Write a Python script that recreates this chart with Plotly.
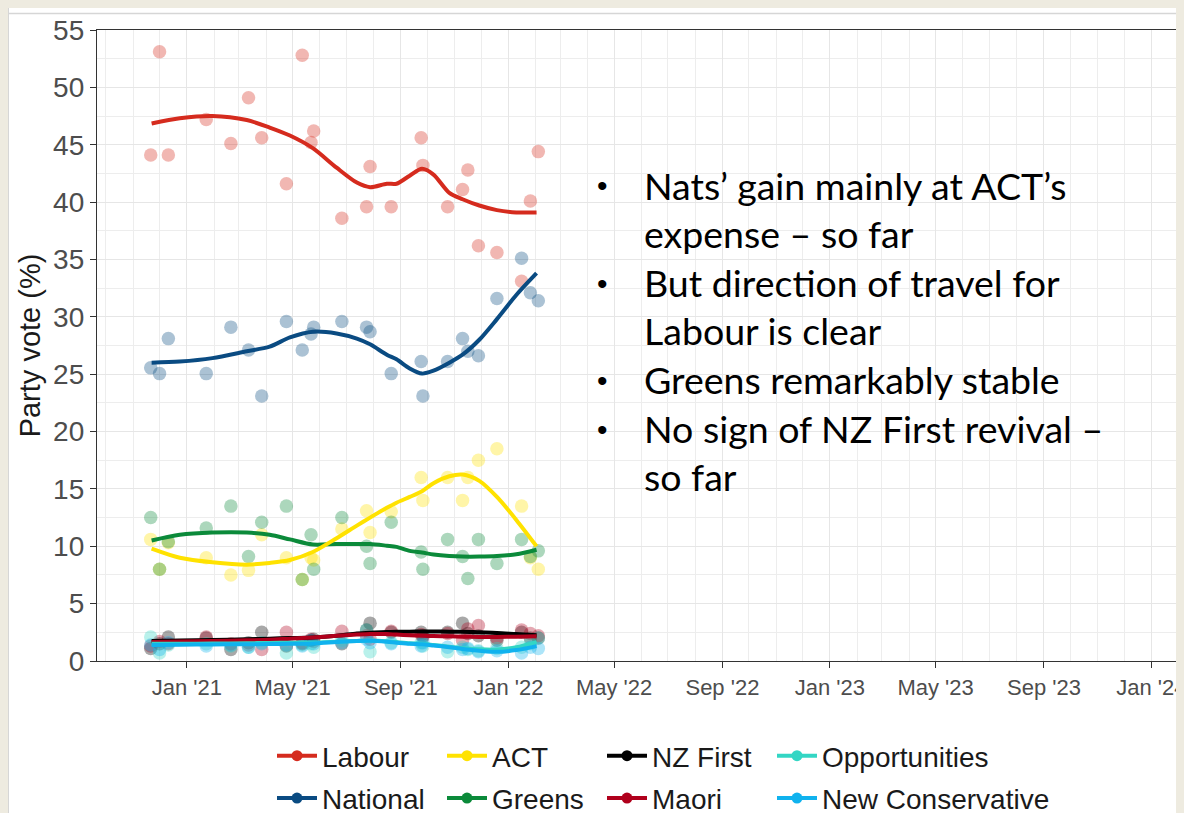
import plotly.graph_objects as go

# ---------------- data ----------------
poll_dates = ["2020-11-21", "2020-12-01", "2020-12-11", "2021-01-23", "2021-02-20",
              "2021-03-12", "2021-03-27", "2021-04-24", "2021-05-12", "2021-05-22",
              "2021-05-25", "2021-06-26", "2021-07-24", "2021-07-28", "2021-08-21",
              "2021-09-24", "2021-09-26", "2021-10-24", "2021-11-10", "2021-11-16",
              "2021-11-28", "2021-12-19", "2022-01-16", "2022-01-26", "2022-02-04"]

labour = [44.1, 53.1, 44.1, 47.2, 45.1, 49.1, 45.6, 41.6, 52.8, 45.2, 46.2, 38.6, 39.6,
          43.1, 39.6, 45.6, 43.2, 39.6, 41.1, 42.8, 36.2, 35.6, 33.1, 40.1, 44.4]
national = [25.55, 25.05, 28.1, 25.05, 29.1, 27.1, 23.1, 29.6, 27.1, 28.5, 29.1, 29.6, 29.1,
            28.7, 25.05, 26.1, 23.1, 26.1, 28.1, 27.0, 26.6, 31.6, 35.1, 32.1, 31.4]
act = [10.6, 8.0, 10.3, 9.0, 7.5, 7.9, 11.0, 9.0, 7.1, 9.0, 8.8, 11.5, 13.1, 11.2, 13.0,
       16.0, 14.0, 16.0, 14.0, 16.0, 17.5, 18.5, 13.5, 9.0, 8.0]
greens = [12.5, 8.0, 10.4, 11.6, 13.5, 9.1, 12.1, 13.5, 7.1, 11.0, 8.0, 12.5, 10.0, 8.5,
          12.1, 9.5, 8.0, 10.6, 9.1, 7.2, 10.6, 8.5, 10.6, 9.1, 9.6]
nz_first = [1.1, 1.5, 2.1, 2.0, 1.0, 1.6, 2.5, 1.3, 1.5, 1.8, 1.9, 1.5, 2.7, 3.3, 2.5,
            2.5, 2.2, 2.5, 3.3, 2.4, 2.2, 1.8, 2.5, 2.0, 2.0]
maori = [1.3, 1.7, 1.5, 2.1, 1.5, 1.4, 1.0, 2.5, 1.6, 1.9, 1.7, 2.6, 2.2, 1.9, 2.6,
         2.3, 2.1, 2.4, 1.8, 2.8, 3.1, 2.0, 2.7, 2.4, 2.2]
opportunities = [2.1, 0.7, 1.4, 1.5, 1.3, 1.2, 1.6, 0.7, 1.4, 1.5, 1.2, 1.8, 2.7, 0.8, 1.6,
                 1.6, 1.3, 0.8, 1.2, 1.0, 0.9, 1.1, 1.2, 1.5, 2.0]
new_conservative = [1.4, 1.0, 1.6, 1.3, 1.4, 1.2, 1.5, 1.4, 1.3, 1.8, 1.5, 1.6, 1.9, 1.6, 1.5,
                    1.3, 1.6, 1.2, 1.0, 1.1, 0.8, 0.9, 0.7, 1.2, 1.1]

smooth_dates = ["2020-11-22", "2020-12-24", "2021-01-30", "2021-03-10", "2021-04-05",
                "2021-04-28", "2021-05-24", "2021-06-20", "2021-07-13", "2021-07-28",
                "2021-08-16", "2021-08-27", "2021-09-11", "2021-09-25", "2021-10-08",
                "2021-10-26", "2021-11-10", "2021-11-29", "2021-12-19", "2022-01-10",
                "2022-02-02"]

labour_trend = [46.85, 47.3, 47.5, 47.15, 46.5, 45.8, 44.7, 43.0, 41.7, 41.3, 41.6, 41.6,
                42.3, 42.9, 42.4, 40.8, 40.25, 39.7, 39.3, 39.1, 39.1]
national_trend = [26.0, 26.1, 26.4, 27.0, 27.4, 28.2, 28.7, 28.55, 28.1, 27.6, 26.7, 26.3,
                  25.5, 25.05, 25.3, 26.0, 26.7, 28.0, 29.8, 31.9, 33.8]
greens_trend = [10.5, 11.0, 11.2, 11.2, 11.0, 10.6, 10.15, 10.2, 10.2, 10.2, 10.05, 9.95,
                9.6, 9.45, 9.28, 9.15, 9.1, 9.1, 9.15, 9.3, 9.7]
act_trend = [9.8, 9.0, 8.6, 8.4, 8.55, 8.8, 9.5, 10.7, 11.8, 12.5, 13.35, 13.8, 14.3, 14.8,
             15.5, 16.1, 16.25, 15.7, 14.3, 12.3, 10.0]
nz_first_trend = [1.75, 1.78, 1.82, 1.9, 1.95, 2.0, 2.05, 2.2, 2.4, 2.47, 2.52, 2.55, 2.56,
                  2.57, 2.57, 2.56, 2.55, 2.5, 2.45, 2.35, 2.25]
maori_trend = [1.65, 1.7, 1.75, 1.8, 1.85, 1.95, 2.05, 2.2, 2.3, 2.35, 2.35, 2.3, 2.25, 2.2,
               2.17, 2.15, 2.12, 2.1, 2.1, 2.12, 2.15]
opportunities_trend = [1.5, 1.5, 1.52, 1.55, 1.57, 1.6, 1.6, 1.68, 1.75, 1.78, 1.72, 1.65,
                       1.55, 1.5, 1.4, 1.25, 1.12, 1.02, 1.0, 1.2, 1.65]
new_conservative_trend = [1.4, 1.42, 1.44, 1.46, 1.48, 1.5, 1.52, 1.65, 1.75, 1.77, 1.68,
                          1.6, 1.5, 1.45, 1.35, 1.2, 1.05, 0.9, 0.8, 0.95, 1.3]

party_names = ["Labour", "National", "ACT", "Greens", "NZ First", "Maori",
               "Opportunities", "New Conservative"]
party_colors = ["#D52B1E", "#0A4B82", "#FFE200", "#0B8A3A", "#000000", "#B0001C",
                "#33D6C4", "#10B2EE"]
poll_values = [labour, national, act, greens, nz_first, maori, opportunities, new_conservative]
trend_values = [labour_trend, national_trend, act_trend, greens_trend, nz_first_trend,
                maori_trend, opportunities_trend, new_conservative_trend]

bullet_lines = ["Nats’ gain mainly at ACT’s", "expense – so far", "But direction of travel for",
                "Labour is clear", "Greens remarkably stable", "No sign of NZ First revival –",
                "so far"]
bullet_flags = [True, False, True, False, True, True, False]

# ---------------- layout geometry (screen pixels; page body has an 8px margin) ----------
OFF = 8
W, H = 1184 - OFF, 813 - OFF
PLOT_L, PLOT_R, PLOT_T, PLOT_B = 97, 1184, 30, 661      # screen coordinates of plot area
ML, MR, MT, MB = PLOT_L - OFF, 1184 - PLOT_R, PLOT_T - OFF, 813 - PLOT_B
PW, PH = W - ML - MR, H - MT - MB


def px(x):
    return (x - PLOT_L) / PW


def py(y):
    return (PLOT_B - y) / PH


fig = go.Figure()

# points
for name, col, vals in zip(party_names, party_colors, poll_values):
    fig.add_trace(go.Scatter(
        x=poll_dates, y=vals, mode="markers", showlegend=False, hoverinfo="skip",
        marker=dict(size=13.5, color=col, opacity=0.34, line=dict(width=0))))

# smooth trend lines
draw_order = [0, 1, 3, 2, 4, 5, 6, 7]
for i in draw_order:
    fig.add_trace(go.Scatter(
        x=smooth_dates, y=trend_values[i], mode="lines", showlegend=False,
        line=dict(color=party_colors[i], width=4, shape="spline", smoothing=0.8),
        name=party_names[i]))

# legend entries (4 columns, ggplot style: fill by column)
legend_ids = ["legend", "legend", "legend2", "legend2", "legend3", "legend3",
              "legend4", "legend4"]
for name, col, lid in zip(party_names, party_colors, legend_ids):
    fig.add_trace(go.Scatter(
        x=[None], y=[None], mode="lines+markers", name=name, legend=lid,
        legendgroup=name, showlegend=True,
        line=dict(color=col, width=4), marker=dict(color=col, size=11)))

legend_common = dict(orientation="v", yanchor="top", xanchor="left",
                     font=dict(family="Liberation Sans, Arial, sans-serif", size=28,
                               color="#1A1A1A"),
                     bgcolor="rgba(0,0,0,0)", tracegroupgap=3, itemwidth=40,
                     y=py(731))

# bullet annotations
annotations = []
line_y = [185, 233.6, 282.2, 330.8, 379.4, 428, 476.6]
for txt, flag, yy in zip(bullet_lines, bullet_flags, line_y):
    annotations.append(dict(
        xref="paper", yref="paper", x=px(642), y=py(yy), xanchor="left", yanchor="middle",
        text=txt, showarrow=False,
        font=dict(family="Lato, Carlito, sans-serif", size=37.5, color="#000000")))
    if flag:
        annotations.append(dict(
            xref="paper", yref="paper", x=px(602), y=py(yy + 1), xanchor="center",
            yanchor="middle", text="•", showarrow=False,
            font=dict(family="Liberation Sans, sans-serif", size=30, color="#000000")))

# thin frame lines of the slide screenshot
shapes = [
    dict(type="line", xref="paper", yref="paper", x0=px(8.5), x1=px(8.5), y0=py(813),
         y1=py(8), line=dict(color="#D6D6D6", width=1), layer="above"),
    dict(type="line", xref="paper", yref="paper", x0=px(8), x1=px(1184), y0=py(13.5),
         y1=py(13.5), line=dict(color="#D6D6D6", width=1.5), layer="above"),
]

fig.update_layout(
    width=W, height=H, margin=dict(l=ML, r=MR, t=MT, b=MB, autoexpand=False),
    paper_bgcolor="white", plot_bgcolor="white",
    font=dict(family="Liberation Sans, Arial, sans-serif"),
    showlegend=True,
    legend=dict(legend_common, x=px(272)),
    legend2=dict(legend_common, x=px(442)),
    legend3=dict(legend_common, x=px(602)),
    legend4=dict(legend_common, x=px(772)),
    annotations=annotations, shapes=shapes,
    xaxis=dict(
        type="date", range=["2020-09-21", "2024-02-07"],
        tick0="2021-01-01", dtick="M4", tickformat="%b '%y",
        showgrid=True, gridcolor="#E6E6E6", gridwidth=1.3,
        minor=dict(dtick="M1", showgrid=True, gridcolor="#EDEDED", gridwidth=0.9),
        ticks="outside", ticklen=6, tickwidth=1.3, tickcolor="#333333",
        showline=True, linecolor="#333333", linewidth=1.3, mirror=True,
        tickfont=dict(size=22, color="#4D4D4D"), zeroline=False,
        ticklabeloverflow="allow",
    ),
    yaxis=dict(
        range=[0, 55], dtick=5, tick0=0,
        showgrid=True, gridcolor="#E6E6E6", gridwidth=1.3,
        minor=dict(dtick=2.5, showgrid=True, gridcolor="#EDEDED", gridwidth=0.9),
        ticks="outside", ticklen=6, tickwidth=1.3, tickcolor="#333333",
        showline=True, linecolor="#333333", linewidth=1.3,
        tickfont=dict(size=28, color="#4D4D4D"), zeroline=False,
        title=dict(text="Party vote (%)", font=dict(size=29, color="#1A1A1A"), standoff=3),
    ),
)

fig.write_html(
    "out.html",
    post_script="document.body.style.background='#EEEBE0';"
                "document.body.style.overflow='hidden';",
)
